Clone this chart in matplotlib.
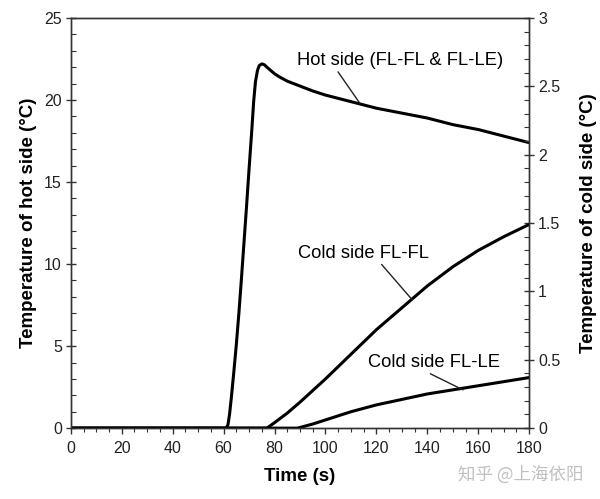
import matplotlib
matplotlib.use("Agg")
import matplotlib.pyplot as plt
from matplotlib.ticker import MultipleLocator, FuncFormatter

plt.rcParams['font.family'] = ['Liberation Sans', 'DejaVu Sans']

# Hot side temperature (left axis, °C)
hot_t = [0, 20, 40, 55, 61, 61.7, 62.3, 63, 64, 65, 66, 67, 68, 69, 70, 71, 71.8, 72.5,
         73.3, 74, 75, 76, 77, 78.5, 80, 82, 85, 90, 95, 100, 110, 120, 130, 140, 150, 160,
         170, 180]
hot_T = [0, 0, 0, 0, 0, 0.2, 0.8, 1.8, 3.4, 5.1, 7.0, 9.1, 11.3, 13.5, 15.8, 18.0, 19.9, 21.1,
         21.8, 22.1, 22.2, 22.15, 22.0, 21.8, 21.6, 21.4, 21.15, 20.85, 20.55, 20.3, 19.9,
         19.5, 19.2, 18.9, 18.5, 18.2, 17.8, 17.4]

# Cold side FL-FL (right axis, °C)
flfl_t = [0, 40, 70, 77, 80, 85, 90, 100, 110, 120, 130, 140, 150, 160, 170, 180]
flfl_T = [0, 0, 0, 0, 0.04, 0.11, 0.19, 0.36, 0.54, 0.72, 0.88, 1.04, 1.18, 1.30, 1.40, 1.49]

# Cold side FL-LE (right axis, °C)
flle_t = [0, 40, 80, 89, 95, 100, 110, 120, 130, 140, 150, 160, 170, 180]
flle_T = [0, 0, 0, 0, 0.03, 0.06, 0.12, 0.17, 0.21, 0.25, 0.28, 0.31, 0.34, 0.37]

fig = plt.figure(figsize=(6.0, 4.99), dpi=100)
ax = fig.add_axes([0.118, 0.142, 0.764, 0.822])
ax2 = ax.twinx()

ax.plot(hot_t, hot_T, color='black', lw=2.2, solid_joinstyle='round')
ax2.plot(flfl_t, flfl_T, color='black', lw=2.2, solid_joinstyle='round')
ax2.plot(flle_t, flle_T, color='black', lw=2.2, solid_joinstyle='round')

ax.set_xlim(0, 180)
ax.set_ylim(0, 25)
ax2.set_ylim(0, 3)

ax.xaxis.set_major_locator(MultipleLocator(20))
ax.xaxis.set_minor_locator(MultipleLocator(5))
ax.yaxis.set_major_locator(MultipleLocator(5))
ax.yaxis.set_minor_locator(MultipleLocator(1))
ax2.yaxis.set_major_locator(MultipleLocator(0.5))
ax2.yaxis.set_minor_locator(MultipleLocator(0.1))
ax2.yaxis.set_major_formatter(FuncFormatter(lambda v, p: f"{v:g}"))

spine_col = '#333333'
for a in (ax, ax2):
    for s in a.spines.values():
        s.set_color(spine_col)
        s.set_linewidth(1.0)

ax.tick_params(axis='x', which='major', direction='out', length=4, width=1, colors=spine_col,
               labelsize=11.5, labelcolor='#222222', pad=5)
ax.tick_params(axis='x', which='minor', direction='out', length=3, width=0.8, colors=spine_col)
ax.tick_params(axis='y', which='major', direction='inout', length=7, width=1, colors=spine_col,
               labelsize=11.5, labelcolor='#222222', pad=3)
ax.tick_params(axis='y', which='minor', direction='in', length=3.5, width=0.8, colors=spine_col)
ax2.tick_params(axis='y', which='major', direction='inout', length=7, width=1, colors=spine_col,
                labelsize=11.5, labelcolor='#222222', pad=3)
ax2.tick_params(axis='y', which='minor', direction='in', length=3.5, width=0.8, colors=spine_col)

ax.set_xlabel('Time (s)', fontsize=13.5, fontweight='bold', labelpad=9)
ax.set_ylabel('Temperature of hot side (\u00b0C)', fontsize=13.5, fontweight='bold', labelpad=5)
ax2.set_ylabel('Temperature of cold side (\u00b0C)', fontsize=13.5, fontweight='bold', labelpad=14)

# Annotations
ax.annotate('Hot side (FL-FL & FL-LE)', xy=(113.5, 19.8), xytext=(88.8, 22.4),
            fontsize=13.2, ha='left', va='center',
            arrowprops=dict(arrowstyle='-', color='#222222', lw=1.0,
                            shrinkA=0, shrinkB=0, relpos=(0.19, 0.0)))
ax2.annotate('Cold side FL-FL', xy=(134, 0.94), xytext=(89.2, 1.28),
             fontsize=13.2, ha='left', va='center',
             arrowprops=dict(arrowstyle='-', color='#222222', lw=1.0,
                             shrinkA=0, shrinkB=0, relpos=(0.62, 0.0)))
ax2.annotate('Cold side FL-LE', xy=(154, 0.28), xytext=(116.7, 0.48),
             fontsize=13.2, ha='left', va='center',
             arrowprops=dict(arrowstyle='-', color='#222222', lw=1.0,
                             shrinkA=0, shrinkB=0, relpos=(0.43, 0.0)))

fig.text(0.763, 0.048, '知乎 @上海依阳', fontsize=12.6, color='#c0c0c0',
         family=['Noto Sans CJK SC', 'DejaVu Sans'], ha='left', va='center')

fig.savefig('out.png', dpi=100)
